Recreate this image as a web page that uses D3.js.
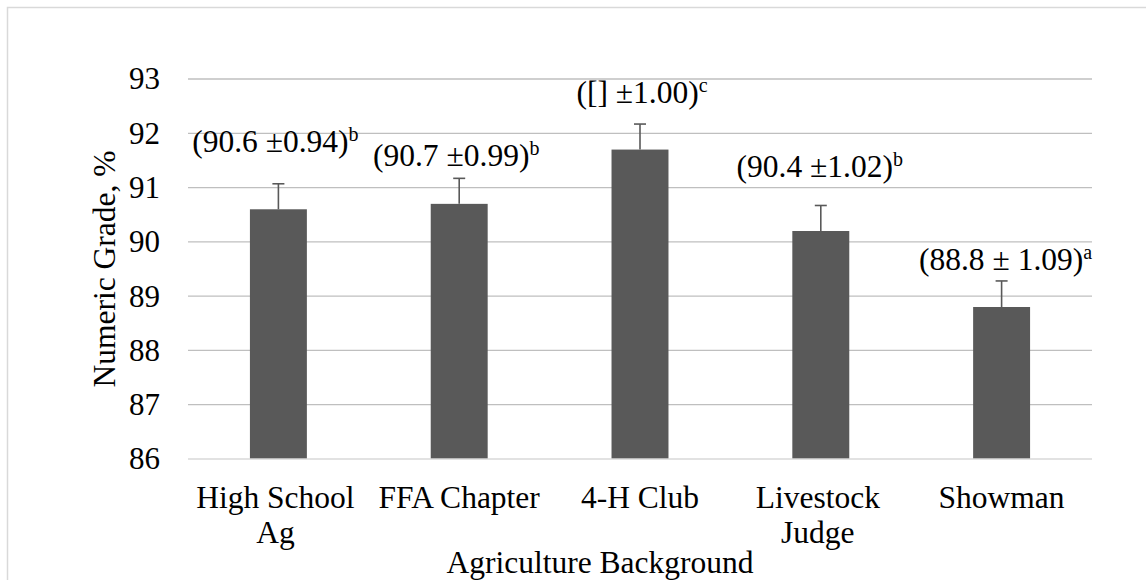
<!DOCTYPE html>
<html>
<head>
<meta charset="utf-8">
<script src="https://d3js.org/d3.v7.min.js"></script>
<style>
body { margin: 0; background: #fff; }
svg { display: block; }
text { font-family: "Liberation Serif", "Times New Roman", serif; fill: #000; }
.grid line { stroke: #bfbfbf; stroke-width: 1.3; }
.yaxis .domain { display: none; }
.yaxis text { font-size: 31px; }
</style>
</head>
<body>
<div id="chart"></div>
<script>

var width = 1146;
var height = 580;

// data
var categories = ["High School Ag", "FFA Chapter", "4-H Club", "Livestock Judge", "Showman"];
var categoryLines = [["High School", "Ag"], ["FFA Chapter"], ["4-H Club"], ["Livestock", "Judge"], ["Showman"]];
var means = [90.6, 90.7, 91.7, 90.2, 88.8];
var errors = [0.47, 0.47, 0.47, 0.47, 0.48];
var labelMain = ["(90.6 \u00b10.94)", "(90.7 \u00b10.99)", "([] \u00b11.00)", "(90.4 \u00b11.02)", "(88.8 \u00b1 1.09)"];
var labelSup = ["b", "b", "c", "b", "a"];
var labelAt = [91.65, 91.4, 92.55, 91.19, 89.49]; // where the label text sits, in axis units
var yTicks = [86, 87, 88, 89, 90, 91, 92, 93];

var svg = d3.select("#chart").append("svg")
  .attr("width", width).attr("height", height);

// outer chart border (only top/left show inside the picture)
svg.append("rect")
  .attr("x", 7.5).attr("y", 7.5)
  .attr("width", 1300).attr("height", 700)
  .style("fill", "none").style("stroke", "#d9d9d9").style("stroke-width", 1.5);

var xScale = d3.scaleBand().domain(categories).range([188, 1092])
  .paddingInner(0.685).paddingOuter(0.3425);
var yScale = d3.scaleLinear().domain([86, 93]).range([459, 79]);

// gridlines
svg.append("g").attr("class", "grid")
  .selectAll("line").data(yTicks.slice(1)).enter()
  .append("line")
  .attr("x1", 188).attr("x2", 1092)
  .attr("y1", function (d) { return yScale(d); })
  .attr("y2", function (d) { return yScale(d); });

// y axis labels
var yAxis = d3.axisLeft(yScale).tickValues(yTicks).tickSize(0).tickPadding(28).tickFormat(d3.format("d"));
svg.append("g").attr("class", "yaxis")
  .attr("transform", "translate(188,0)")
  .call(yAxis)
  .attr("font-family", null).attr("font-size", null);

// bars
svg.selectAll("rect.bar").data(categories).enter()
  .append("rect").attr("class", "bar")
  .attr("x", function (d) { return xScale(d); })
  .attr("width", xScale.bandwidth())
  .attr("y", function (d, i) { return yScale(means[i]); })
  .attr("height", function (d, i) { return yScale(86) - yScale(means[i]); })
  .style("fill", "#595959");

// baseline
svg.append("line")
  .attr("x1", 188).attr("x2", 1092)
  .attr("y1", yScale(86)).attr("y2", yScale(86))
  .style("stroke", "#d9d9d9").style("stroke-width", 1.5);

// error bars (upper only)
var err = svg.append("g").style("stroke", "#595959").style("stroke-width", 1.6);
categories.forEach(function (c, i) {
  var cx = xScale(c) + xScale.bandwidth() / 2;
  err.append("line")
    .attr("x1", cx).attr("x2", cx)
    .attr("y1", yScale(means[i])).attr("y2", yScale(means[i] + errors[i]));
  err.append("line")
    .attr("x1", cx - 6).attr("x2", cx + 6)
    .attr("y1", yScale(means[i] + errors[i])).attr("y2", yScale(means[i] + errors[i]));
});

// value labels with superscript letters (hand-placed text boxes in the original)
var labelShift = [-3, -3, 2, -1, 4];
categories.forEach(function (c, i) {
  var t = svg.append("text")
    .attr("x", xScale(c) + xScale.bandwidth() / 2 + labelShift[i])
    .attr("y", yScale(labelAt[i]))
    .attr("text-anchor", "middle")
    .style("font-size", "31.5px");
  t.append("tspan").text(labelMain[i]);
  t.append("tspan").attr("dy", -11).style("font-size", "20px").text(labelSup[i]);
});

// category labels
categories.forEach(function (c, i) {
  var t = svg.append("text")
    .attr("text-anchor", "middle")
    .style("font-size", "31.5px");
  categoryLines[i].forEach(function (line, j) {
    t.append("tspan")
      .attr("x", xScale(c) + xScale.bandwidth() / 2 - (categoryLines[i].length > 1 ? 3 : 0))
      .attr("y", 507.5 + j * 35.5)
      .text(line);
  });
});

// axis titles
svg.append("text")
  .attr("x", 600).attr("y", 572.5)
  .attr("text-anchor", "middle")
  .style("font-size", "31.5px")
  .text("Agriculture Background");

svg.append("text")
  .attr("transform", "translate(115," + ((yScale(86) + yScale(93)) / 2) + ") rotate(-90)")
  .attr("text-anchor", "middle")
  .style("font-size", "31.5px")
  .text("Numeric Grade, %");

</script>
</body>
</html>
